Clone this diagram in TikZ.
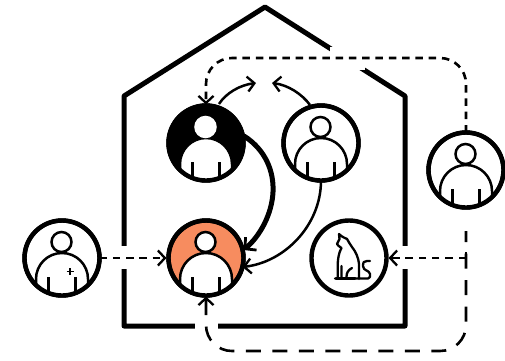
\documentclass[tikz,border=0pt]{standalone}
\usetikzlibrary{arrows.meta,calc}
\definecolor{peach}{HTML}{F78C5F}
\tikzset{
  x=1pt,y=-1pt,
  disc/.style={circle,draw=black,line width=4.4pt,minimum size=75pt,inner sep=0pt,outer sep=0pt,fill=#1},
  disc/.default=white,
  house/.style={line width=5pt,line join=round},
  opentip/.style={-{Straight Barb[length=7pt,width=15pt,line width=2.3pt]}},
  shortdash/.style={line width=2.6pt,dash pattern=on 7.5pt off 5.8pt,opentip},
  longdash/.style={line width=2.6pt,dash pattern=on 15pt off 11.5pt,opentip},
  thinarc/.style={line width=2.5pt,opentip},
  thickarc/.style={line width=5pt,-{Straight Barb[length=8pt,width=17pt,line width=2.8pt]}},
  bodyline/.style={line width=2.5pt},
  catline/.style={line width=2.3pt,line cap=round,line join=round},
}
\newcommand{\personicon}[2]{%
  \begin{scope}
    \clip (#1) circle[radius=37.5];
    \path[shift={(#1)},fill=white,draw=black,line width=2.5pt]
      (-26,40) -- (-26,21) arc[start angle=180,end angle=360,radius=26] -- (26,40) -- cycle;
    \draw[shift={(#1)},bodyline] (-13.7,19) -- (-13.7,40) (13.7,19) -- (13.7,40);
  \end{scope}
  \draw[shift={(#1)},fill=white,draw=#2,line width=2.5pt] (-0.5,-16) circle[radius=10];
  \draw[black,line width=4.4pt] (#1) circle[radius=37.5];
}
\begin{document}
\begin{tikzpicture}
\useasboundingbox (0,0) rectangle (505,360);
\fill[white] (0,0) rectangle (505,360);
% house
\draw[house] (124,326) -- (124,96) -- (265,7) -- (405,96) -- (405,326) -- cycle;
% gaps
\fill[white] (112,245.5) rectangle (136,269);
\fill[white] (393,245.5) rectangle (417,269);
\fill[white] (195,315) rectangle (218,337);
\fill[white] (330,46.5) rectangle (365,70);
% nodes
\node[disc=black] (blk) at (206,143) {};
\node[disc=white] (wht) at (321,143) {};
\node[disc=peach] (org) at (206,258) {};
\node[disc=white] (lft) at (62,258) {};
\node[disc=white] (cat) at (349,258) {};
\node[disc=white] (rgt) at (466,170) {};
\personicon{blk}{white}
\personicon{wht}{black}
\personicon{org}{black}
\personicon{lft}{black}
\personicon{rgt}{black}
\draw[line width=1.6pt] (70,268) -- (70,275) (66.5,271.5) -- (73.5,271.5);
% cat
\draw[catline,shift={(325,228)}]
  (14,6) .. controls (17,9) and (20,10) .. (22,11)
  .. controls (23,13) and (25,16) .. (27,19)
  .. controls (31,24) and (33.5,30) .. (34,36) -- (34,51)
  (14,6) -- (14.5,11) .. controls (13,13) and (12.5,14) .. (12,16)
  .. controls (14,19) and (16,19) .. (16.5,20)
  .. controls (14,24) and (12.7,31) .. (12.7,37) -- (12.7,49)
  (16.5,38) -- (16.5,49)
  (21.5,49) .. controls (21.5,45) and (23,42) .. (27,40)
  (10,50.5) -- (43,50.5) .. controls (45,50.5) and (45.5,48) .. (45,46)
  .. controls (44.5,42) and (38,43) .. (38,38)
  .. controls (38,34) and (39,33) .. (42,33) -- (45,33);
\draw[catline,line width=3pt,shift={(325,228)}] (11,50.5) -- (30,50.5);
% connectors
\coordinate (topl) at ($(blk.north)+(0,-47.5)$);
\coordinate (topr) at ($(rgt.north)+(0,-74.5)$);
\coordinate (junct) at (466,258);
\coordinate (botstart) at (466,231);
\coordinate (botr) at (466,351);
\coordinate (botl) at (206,351);
\coordinate (archub1) at (256,83);
\coordinate (archub2) at (272,83);
\draw[shortdash,rounded corners=26pt] (rgt.north) -- (topr) -- (topl) -- ([yshift=1pt]blk.north);
\draw[longdash,rounded corners=26pt,dash phase=4pt] (botstart) -- (botr) -- (botl) -- ([yshift=-1pt]org.south);
\draw[shortdash] (lft.east) -- ([xshift=-2pt]org.west);
\draw[shortdash] (junct) -- ([xshift=2pt]cat.east);
\draw[line width=2.6pt] (466,252) -- (466,267);
\draw[thickarc] (244,136) .. controls (266,150) and (274,172) .. (273,192)
  .. controls (272,214) and (260,236) .. ([xshift=0pt,yshift=8pt]org.east);
\draw[thinarc] (wht.south) .. controls (321,225) and (285,262) .. ([xshift=-1pt,yshift=-9pt]org.east);
\draw[thinarc] (219,104) .. controls (226,93) and (240,85) .. (archub1);
\draw[thinarc] (310,105) .. controls (302,94) and (288,85) .. (archub2);
\end{tikzpicture}
\end{document}
